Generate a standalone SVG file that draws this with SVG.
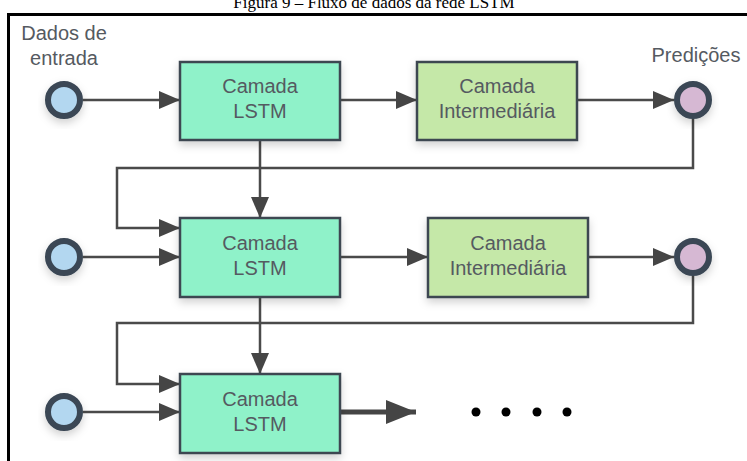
<svg xmlns="http://www.w3.org/2000/svg" width="747" height="461" viewBox="0 0 747 461">
  <style>
    .lbl { font-family: "Liberation Sans", Arial, sans-serif; font-size: 20px; fill: #555a61; text-anchor: middle; }
    .cap { font-family: "Liberation Serif", "Times New Roman", serif; font-size: 17px; fill: #000; text-anchor: middle; }
    .lstm { fill: #8ff2c9; stroke: #3c4651; stroke-width: 2.5; }
    .mid { fill: #c5e8a8; stroke: #3c4651; stroke-width: 2.5; }
    .in { fill: #b3d7f0; stroke: #3a4754; stroke-width: 6; }
    .out { fill: #d6b8d3; stroke: #3a4754; stroke-width: 6; }
    .wire { fill: none; stroke: #4a4a4a; stroke-width: 2.5; }
    .arrow { marker-end: url(#head); }
  </style>
  <defs>
    <marker id="head" markerUnits="userSpaceOnUse" markerWidth="23" markerHeight="18" refX="21" refY="9" orient="auto">
      <path d="M0,0 L21,9 L0,18 Z" fill="#454545"/>
    </marker>
    <marker id="bighead" markerUnits="userSpaceOnUse" markerWidth="32" markerHeight="24" refX="30" refY="12" orient="auto">
      <path d="M0,0 L30,12 L0,24 Z" fill="#454545"/>
    </marker>
    <filter id="shadow" x="-30%" y="-30%" width="160%" height="170%">
      <feDropShadow dx="0" dy="4" stdDeviation="4" flood-color="#000" flood-opacity="0.18"/>
    </filter>
  </defs>

  <rect width="747" height="461" fill="#ffffff"/>

  <!-- caption and frame -->
  <text class="cap" x="374" y="8">Figura 9 – Fluxo de dados da rede LSTM</text>
  <path d="M8.5,461 V14.5 H747" fill="none" stroke="#000" stroke-width="3"/>

  <!-- connectors -->
  <g id="connectors">
    <!-- row 1 -->
    <line class="wire arrow" x1="83" y1="100" x2="180" y2="100"/>
    <line class="wire arrow" x1="340" y1="100" x2="417" y2="100"/>
    <line class="wire arrow" x1="577" y1="100" x2="674" y2="100"/>
    <line class="wire arrow" x1="260" y1="140" x2="260" y2="218"/>
    <path class="wire arrow" d="M693,119 V168 H117 V228 H180"/>
    <!-- row 2 -->
    <line class="wire arrow" x1="83" y1="257" x2="180" y2="257"/>
    <line class="wire arrow" x1="340" y1="257" x2="428" y2="257"/>
    <line class="wire arrow" x1="588" y1="257" x2="674" y2="257"/>
    <line class="wire arrow" x1="260" y1="297" x2="260" y2="374"/>
    <path class="wire arrow" d="M693,276 V323 H117 V384 H180"/>
    <!-- row 3 -->
    <line class="wire arrow" x1="83" y1="412" x2="180" y2="412"/>
    <line x1="340" y1="412" x2="416" y2="412" stroke="#454545" stroke-width="5" marker-end="url(#bighead)"/>
  </g>

  <!-- input labels -->
  <g id="label-input">
    <text class="lbl" x="64" y="40">Dados de</text>
    <text class="lbl" x="64" y="65">entrada</text>
  </g>
  <g id="label-output">
    <text class="lbl" x="696" y="62">Predições</text>
  </g>

  <!-- row 1 -->
  <g id="in1" filter="url(#shadow)"><circle class="in" cx="64" cy="100" r="16"/></g>
  <g id="lstm1">
    <rect class="lstm" x="180" y="62" width="160" height="78" filter="url(#shadow)"/>
    <text class="lbl" x="260" y="93">Camada</text>
    <text class="lbl" x="260" y="118">LSTM</text>
  </g>
  <g id="mid1">
    <rect class="mid" x="417" y="62" width="160" height="78" filter="url(#shadow)"/>
    <text class="lbl" x="497" y="93">Camada</text>
    <text class="lbl" x="497" y="118">Intermediária</text>
  </g>
  <g id="out1" filter="url(#shadow)"><circle class="out" cx="693" cy="100" r="16"/></g>

  <!-- row 2 -->
  <g id="in2" filter="url(#shadow)"><circle class="in" cx="64" cy="257" r="16"/></g>
  <g id="lstm2">
    <rect class="lstm" x="180" y="218" width="160" height="79" filter="url(#shadow)"/>
    <text class="lbl" x="260" y="250">Camada</text>
    <text class="lbl" x="260" y="275">LSTM</text>
  </g>
  <g id="mid2">
    <rect class="mid" x="428" y="218" width="160" height="79" filter="url(#shadow)"/>
    <text class="lbl" x="508" y="250">Camada</text>
    <text class="lbl" x="508" y="275">Intermediária</text>
  </g>
  <g id="out2" filter="url(#shadow)"><circle class="out" cx="693" cy="257" r="16"/></g>

  <!-- row 3 -->
  <g id="in3" filter="url(#shadow)"><circle class="in" cx="64" cy="412" r="16"/></g>
  <g id="lstm3">
    <rect class="lstm" x="180" y="374" width="160" height="79" filter="url(#shadow)"/>
    <text class="lbl" x="260" y="406">Camada</text>
    <text class="lbl" x="260" y="431">LSTM</text>
  </g>
  <g id="continuation" fill="#000">
    <circle cx="476" cy="412" r="4.5"/>
    <circle cx="506" cy="412" r="4.5"/>
    <circle cx="537" cy="412" r="4.5"/>
    <circle cx="567" cy="412" r="4.5"/>
  </g>
</svg>
